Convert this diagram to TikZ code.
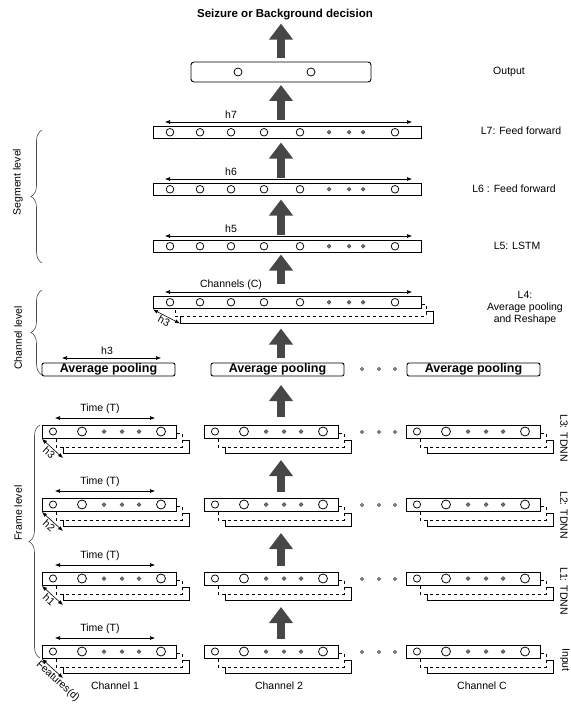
\documentclass[tikz,border=0pt]{standalone}
\usepackage{fontspec}
\setmainfont{Liberation Sans}
\usetikzlibrary{arrows.meta,decorations.pathreplacing,positioning}

% one channel layer: front box with two stacked copies behind it
\newcommand{\chanrow}[3]{%
  \draw[backbox] (#2+21,#3+15) rectangle (#2+147,#3+28);
  \draw[backbox,dashed] (#2+14,#3+8) rectangle (#2+140,#3+22);
  \node[chanbox] (#1) at (#2,#3) {};
  \draw[unit] ([xshift=11pt]#1.west) circle (3.6pt);
  \foreach \dx in {40,119} \draw[unit] ([xshift=\dx pt]#1.west) circle (4.5pt);
  \foreach \dx in {62,80,97} \draw[dot] ([xshift=\dx pt]#1.west) circle (1.9pt);
}

\begin{document}
\begin{tikzpicture}[x=1pt,y=-1pt,
  lbl/.style={font=\fontsize{10.5}{12}\selectfont, inner sep=1pt},
  lbox/.style={draw, fill=white, line width=0.9pt, minimum width=268pt, minimum height=12.5pt,
    inner sep=0pt, outer sep=0pt, anchor=north west},
  chanbox/.style={lbox, line width=1pt, minimum width=134pt, minimum height=13pt},
  poolbox/.style={lbox, rounded corners=2pt, minimum width=133pt, minimum height=13pt,
    font=\bfseries\fontsize{12.5}{14}\selectfont},
  backbox/.style={draw, fill=white, line width=0.8pt},
  unit/.style={draw, fill=white, line width=0.75pt},
  dot/.style={draw=black!75, fill=black!55, line width=0.5pt},
  tinyo/.style={draw, line width=0.6pt},
  dimarrow/.style={line width=0.6pt, {Latex[length=5pt,width=4pt]}-{Latex[length=5pt,width=4pt]}},
  bigarrow/.style={draw=black!72, line width=8pt, -{Triangle[length=16pt,width=23pt]}},
  lvlbrace/.style={decorate, decoration={brace, amplitude=11pt}, line width=0.6pt, draw=black!70}]
  \useasboundingbox (0,0) rectangle (570,706);

  % segment level
  \node[font=\bfseries\fontsize{11.5}{13}\selectfont, inner sep=1pt] (title) at (285,15) {Seizure or Background decision};
  \node[lbox, rounded corners=3pt, minimum width=180pt, minimum height=20pt] (output) at (191,62) {};
  \draw[unit] ([xshift=47pt]output.west) circle (4pt);
  \draw[unit] ([xshift=120pt]output.west) circle (4pt);

  \draw[backbox] (180,311) rectangle (433,323);
  \draw[backbox,dashed] (175,304) rectangle (426,316);
  \node[lbox] (l7) at (153,126) {};
  \node[lbox] (l6) at (153,183) {};
  \node[lbox] (l5) at (153,240) {};
  \node[lbox] (l4) at (153,296) {};
  \foreach \n in {l7,l6,l5,l4} {
    \foreach \dx in {17,47,78,111,147,242} \draw[unit] ([xshift=\dx pt]\n.west) circle (3.8pt);
    \foreach \dx in {176,196,210} \draw[dot] ([xshift=\dx pt]\n.west) circle (1.9pt);
  }
  \foreach \n/\t in {l7/h7,l6/h6,l5/h5,l4/Channels (C)} {
    \draw[dimarrow] ([shift={(12,-4)}]\n.north west) -- ([shift={(-9,-4)}]\n.north east);
    \node[lbl] (\n lbl) at ([shift={(78,-11)}]\n.north west) {\t};
  }
  \draw[dimarrow] ([shift={(0,1)}]l4.south west) -- ([shift={(27,15)}]l4.south west)
    node[lbl, midway, sloped, below=0pt] (l4h) {h3};

  % channel level
  \node[poolbox] (avg1) at (42,363) {Average pooling};
  \node[poolbox] (avg2) at (211,363) {Average pooling};
  \node[poolbox] (avg3) at (407,363) {Average pooling};
  \draw[dimarrow] ([shift={(20,-5)}]avg1.north west) -- ([shift={(119,-5)}]avg1.north west);
  \node[lbl] (avgh) at ([shift={(65,-12)}]avg1.north west) {h3};
  \foreach \dx in {362,379,395} \draw[tinyo] (\dx,369) circle (1.5pt);

  % frame level
  \foreach \row/\y in {in/645,l1/572,l2/498,l3/425} {
    \foreach \col/\x in {1/42,2/204,C/406} {
      \chanrow{\row c\col}{\x}{\y}
    }
    \foreach \dx in {362,379,395} \draw[tinyo] (\dx,\y+7) circle (1.5pt);
    \draw[dimarrow] ([shift={(13,-7)}]\row c1.north west) -- ([shift={(113,-7)}]\row c1.north west);
    \node[lbl] (\row time) at ([shift={(58,-16)}]\row c1.north west) {Time (T)};
  }
  \foreach \row/\h in {l3/h3,l2/h2,l1/h1}
    \draw[dimarrow] ([shift={(0,1)}]\row c1.south west) -- ([shift={(21,20)}]\row c1.south west)
      node[lbl, midway, sloped, below=0pt] (\row h) {\h};
  \draw[dimarrow] ([shift={(0,1)}]inc1.south west) -- ([shift={(21,20)}]inc1.south west)
    node[lbl, pos=0.95, sloped, below=0pt] (feat) {Features(d)};

  \node[lbl] (ch1) at (115,686) {Channel 1};
  \node[lbl] (ch2) at (279,686) {Channel 2};
  \node[lbl] (chC) at (482,686) {Channel C};

  % big arrows
  \coordinate (spine) at (281,0);
  \draw[bigarrow, shorten <=4pt, shorten >=2pt] (output.north -| spine) -- (title.south -| spine);
  \draw[bigarrow, shorten <=6pt, shorten >=3pt] (l7.north -| spine) -- (output.south -| spine);
  \draw[bigarrow, shorten <=5pt, shorten >=4pt] (l6.north -| spine) -- (l7.south -| spine);
  \draw[bigarrow, shorten <=5pt, shorten >=4pt] (l5.north -| spine) -- (l6.south -| spine);
  \draw[bigarrow, shorten <=12pt, shorten >=2pt] (l4.north -| spine) -- (l5.south -| spine);
  \draw[bigarrow, shorten <=5pt, shorten >=20pt] (avg2.north -| spine) -- (l4.south -| spine);
  \draw[bigarrow, shorten <=8pt, shorten >=9pt] (l3c2.north -| spine) -- (avg2.south -| spine);
  \draw[bigarrow, shorten <=6pt, shorten >=22pt] (l2c2.north -| spine) -- (l3c2.south -| spine);
  \draw[bigarrow, shorten <=6pt, shorten >=22pt] (l1c2.north -| spine) -- (l2c2.south -| spine);
  \draw[bigarrow, shorten <=6pt, shorten >=22pt] (inc2.north -| spine) -- (l1c2.south -| spine);

  % layer names
  \node[lbl] (outlbl) at (509,72) {Output};
  \node[lbl] (l7name) at (521,131) {L7: Feed forward};
  \node[lbl] (l6name) at (514,189) {L6 : Feed forward};
  \node[lbl] (l5name) at (517,246) {L5: LSTM};
  \node[lbl, align=center] (l4name) at (525,308) {L4:\\Average pooling\\and Reshape};
  \node[lbl, rotate=-90] (l3name) at (564,438) {L3: TDNN};
  \node[lbl, rotate=-90] (l2name) at (564,515) {L2: TDNN};
  \node[lbl, rotate=-90] (l1name) at (564,591) {L1: TDNN};
  \node[lbl, rotate=-90] (inname) at (565,660) {Input};

  % levels
  \draw[lvlbrace] (42,263) -- (42,130);
  \draw[lvlbrace] (42,375) -- (42,290);
  \draw[lvlbrace] (40,658) -- (40,425);
  \node[lbl, rotate=90] (seglvl) at (18,182) {Segment level};
  \node[lbl, rotate=90] (chlvl) at (18,338) {Channel level};
  \node[lbl, rotate=90] (frlvl) at (18,513) {Frame level};
\end{tikzpicture}
\end{document}
